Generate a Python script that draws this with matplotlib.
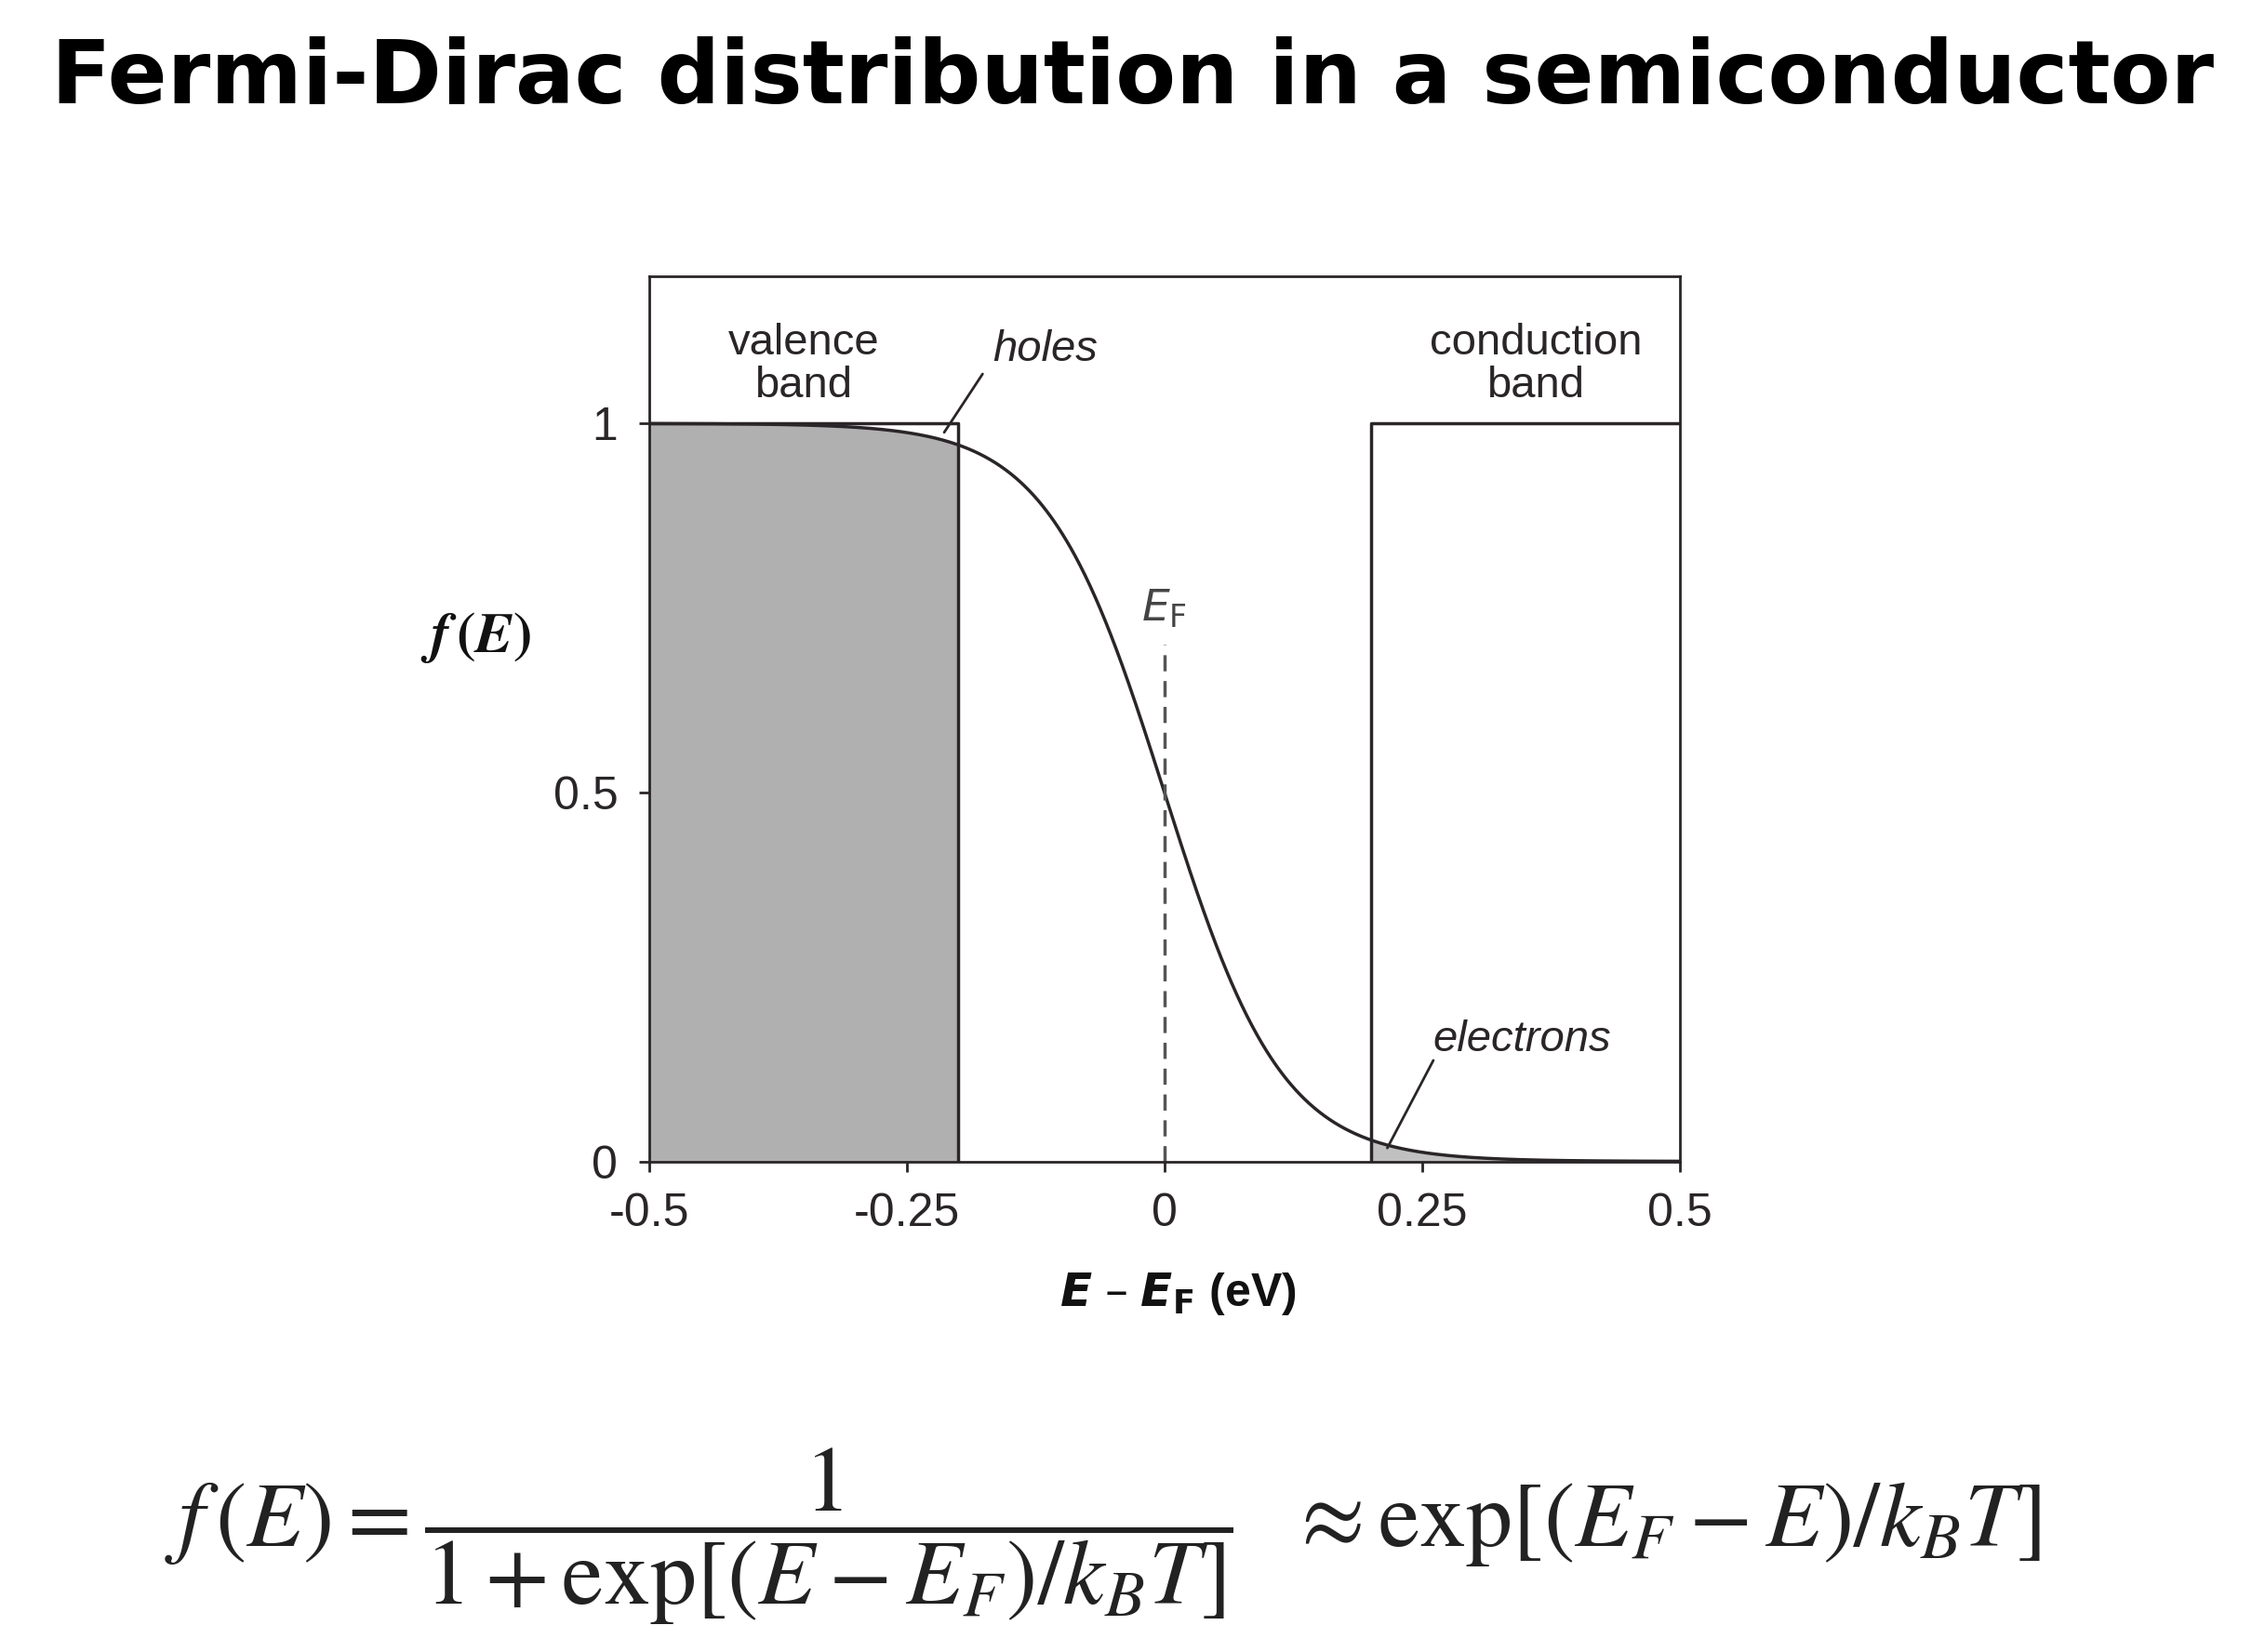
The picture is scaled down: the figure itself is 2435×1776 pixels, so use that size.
import numpy as np
import matplotlib
matplotlib.use("Agg")
import matplotlib.pyplot as plt

# data
kT = 0.057          # eV, thermal energy used for the curve
E_v = -0.2          # valence band edge
E_c = 0.2           # conduction band edge
xticks = [-0.5, -0.25, 0, 0.25, 0.5]
xtick_labels = ["-0.5", "-0.25", "0", "0.25", "0.5"]
yticks = [0, 0.5, 1]
ytick_labels = ["0", "0.5", "1"]

E = np.linspace(-0.5, 0.5, 1001)
f = 1.0 / (1.0 + np.exp(E / kT))

fig = plt.figure(figsize=(24.35, 17.76), dpi=100)
ax = fig.add_axes([0.2865, 0.297, 0.4552, 0.536])
ax.set_xlim(-0.5, 0.5)
ax.set_ylim(0, 1.2)

lc = "#2a2528"
mv = E <= E_v
ax.fill_between(E[mv], 0, f[mv], color="#b0b0b0", lw=0)
mc = E >= E_c
ax.fill_between(E[mc], 0, f[mc], color="#c0c0c0", lw=0)
ax.plot([-0.5, E_v, E_v], [1, 1, 0], color=lc, lw=2.5)
ax.plot([E_c, E_c, 0.5], [0, 1, 1], color=lc, lw=2.5)
ax.plot(E, f, color=lc, lw=2.5)
ax.plot([0, 0], [0, 0.7], color="#555555", lw=2.5, ls=(0, (5, 3)))

for s in ax.spines.values():
    s.set_color(lc); s.set_linewidth(2)
ax.set_xticks(xticks, xtick_labels)
ax.set_yticks(yticks, ytick_labels)
ax.tick_params(labelsize=36, length=8, width=2, colors=lc, pad=16)
for t in ax.get_xticklabels() + ax.get_yticklabels():
    t.set_family("Liberation Sans")

tf = dict(family="Liberation Sans", fontsize=34, color=lc)
ax.text(-0.35, 1.08, "valence\nband", ha="center", va="center", linespacing=1.05, **tf)
ax.text(0.36, 1.08, "conduction\nband", ha="center", va="center", linespacing=1.05, **tf)
ax.text(-0.167, 1.1, "holes", style="italic", ha="left", va="center", **tf)
ax.annotate("", xy=(-0.215, 0.985), xytext=(-0.175, 1.07),
            arrowprops=dict(arrowstyle="-", color=lc, lw=2))
ax.text(0.26, 0.165, "electrons", style="italic", ha="left", va="center", **tf)
ax.annotate("", xy=(0.215, 0.015), xytext=(0.262, 0.14),
            arrowprops=dict(arrowstyle="-", color=lc, lw=2))
ax.text(0, 0.72, r"$E_{\mathrm{F}}$", ha="center", va="bottom", fontsize=34, color="#444444")

fig.text(0.21, 0.614, r"$\boldsymbol{f}\,\mathbf{(}\boldsymbol{E}\mathbf{)}$", fontsize=44, ha="center", va="center",
         math_fontfamily="stix", color="#111111")
fig.text(0.52, 0.217, r"$\boldsymbol{E}$ – $\boldsymbol{E}_\mathbf{F}$ (eV)", fontsize=36, weight="bold",
         ha="center", va="center", family="Liberation Sans", color="#111111")

fig.text(0.5, 0.952, "Fermi-Dirac distribution in a semiconductor", fontsize=68,
         weight="bold", ha="center", va="center", family="DejaVu Sans")
fig.text(0.487, 0.07, r"$f\,(E) = \dfrac{1}{1+\exp[(E-E_F)/k_BT]}\ \ \approx \exp[(E_F-E)/k_BT]$",
         fontsize=72, ha="center", va="center", math_fontfamily="stix", color="#222222")

fig.savefig("out.png", dpi=100)
